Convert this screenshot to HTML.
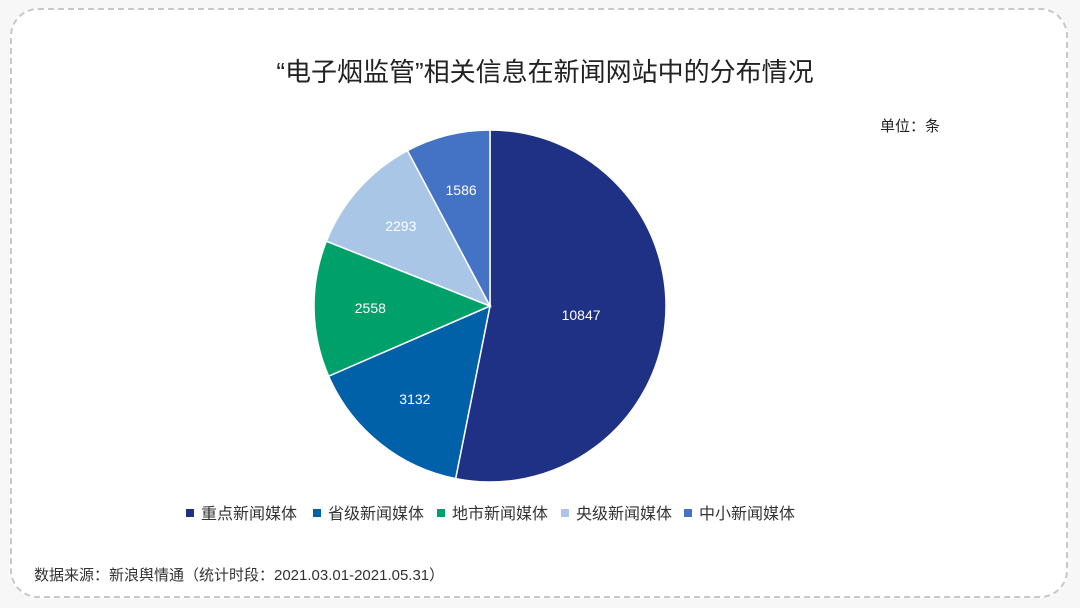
<!DOCTYPE html>
<html><head><meta charset="utf-8"><style>
body{margin:0;width:1080px;height:608px;background:#f7f7f7;font-family:"Liberation Sans","Noto Sans CJK SC",sans-serif;overflow:hidden}
#card{position:absolute;left:10px;top:8px;width:1058px;height:590px;background:#fff;border:2px dashed #c8c8c8;border-radius:28px;box-sizing:border-box}
</style></head><body>
<div id="card"></div>
<svg id="chart" width="1080" height="608" style="position:absolute;left:0;top:0">
<text x="545" y="81" text-anchor="middle" font-size="26" fill="#222">“电子烟监管”相关信息在新闻网站中的分布情况</text>
<text x="880" y="131" font-size="15" fill="#222">单位：条</text>
<text x="34" y="580" font-size="15" fill="#333">数据来源：新浪舆情通（统计时段：2021.03.01-2021.05.31）</text>
<g id="slices"></g><g id="labels"></g><g id="legend"></g>
</svg>
<script>
const categories=["重点新闻媒体","省级新闻媒体","地市新闻媒体","央级新闻媒体","中小新闻媒体"];
const values=[10847,3132,2558,2293,1586];
const colors=["#1f3185","#0060a8","#00a06a","#a9c6e6","#4472c4"];
const NS="http://www.w3.org/2000/svg";
const cx=490,cy=306,r=176;
const total=values.reduce((a,b)=>a+b,0);
function pt(frac,d){const a=frac*2*Math.PI;return[cx+d*Math.sin(a),cy-d*Math.cos(a)];}
let acc=0;
const gs=document.getElementById('slices'),gl=document.getElementById('labels'),gL=document.getElementById('legend');
values.forEach((v,i)=>{
 const f0=acc/total,f1=(acc+v)/total;acc+=v;
 const p0=pt(f0,r),p1=pt(f1,r);
 const p=document.createElementNS(NS,'path');
 p.setAttribute('d',`M${cx},${cy}L${p0[0]},${p0[1]}A${r},${r} 0 ${f1-f0>0.5?1:0} 1 ${p1[0]},${p1[1]}Z`);
 p.setAttribute('fill',colors[i]);p.setAttribute('stroke','#fff');p.setAttribute('stroke-width','1.5');
 
 
 gs.appendChild(p);
 const m=(f0+f1)/2;const lp=pt(m,(f1-f0)>0.4?r*0.52:r*0.68);
 const t=document.createElementNS(NS,'text');
 t.setAttribute('x',lp[0]);t.setAttribute('y',lp[1]+5);t.setAttribute('text-anchor','middle');
 t.setAttribute('font-size','14');t.setAttribute('fill','#fff');t.textContent=v;
 
 
 gl.appendChild(t);
});
const lx=[186,313,437,561,684];
categories.forEach((c,i)=>{
 const g=document.createElementNS(NS,'g');
 
 
 const s=document.createElementNS(NS,'rect');
 s.setAttribute('x',lx[i]);s.setAttribute('y',509);s.setAttribute('width',8);s.setAttribute('height',8);s.setAttribute('fill',colors[i]);
 const t=document.createElementNS(NS,'text');
 t.setAttribute('x',lx[i]+15);t.setAttribute('y',519);t.setAttribute('font-size','16');t.setAttribute('fill','#333');t.textContent=c;
 g.appendChild(s);g.appendChild(t);gL.appendChild(g);
});
</script>
</body></html>
